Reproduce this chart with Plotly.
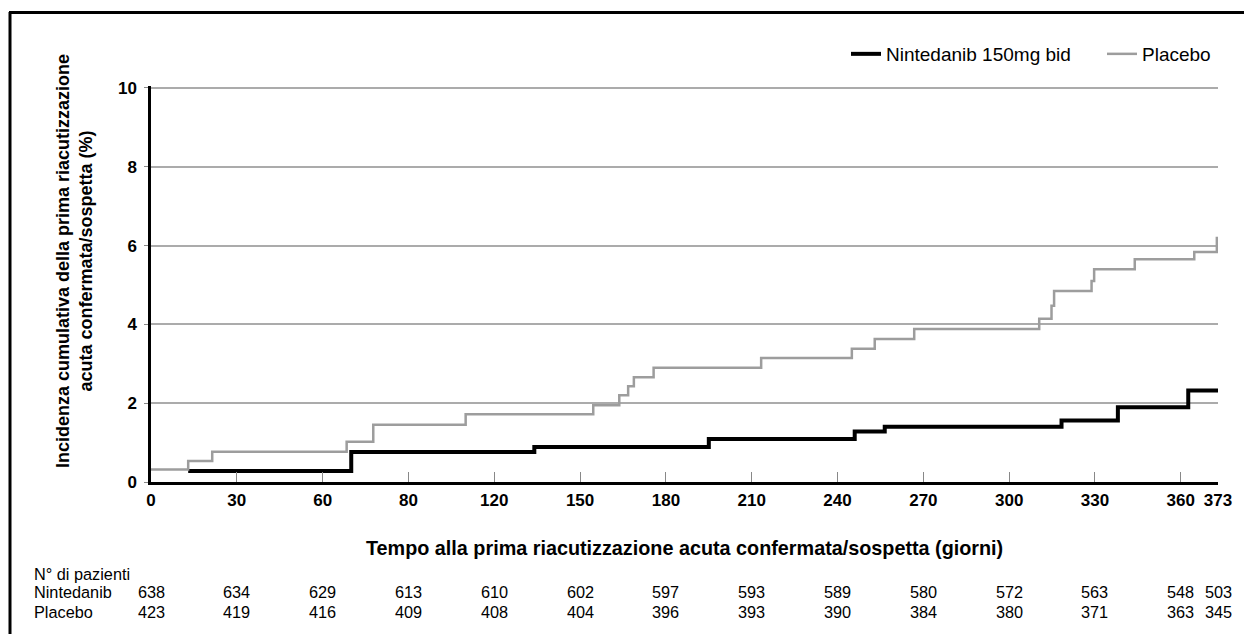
import plotly.graph_objects as go

# ---- data ----
nint_days = [13, 70, 134, 195, 246, 256.5, 318.3, 338, 362.6, 373]
nint_vals = [0.28, 0.76, 0.89, 1.09, 1.28, 1.40, 1.56, 1.90, 2.32, 2.32]

plac_days = [0, 13, 21.4, 68.4, 77.7, 110, 154.6, 163.7, 166.8, 168.8, 175.7,
             213.3, 245, 253, 266.8, 310.5, 314.8, 315.7, 328.8, 329.7, 343.9,
             364.7, 372.6, 373]
plac_vals = [0.32, 0.53, 0.77, 1.02, 1.45, 1.72, 1.95, 2.20, 2.43, 2.66, 2.90,
             3.15, 3.38, 3.63, 3.88, 4.14, 4.47, 4.85, 5.10, 5.40, 5.65,
             5.84, 6.19, 6.19]

x_tickvals = [0, 30, 60, 90, 120, 150, 180, 210, 240, 270, 300, 330, 360, 373]
x_ticktext = ["0", "30", "60", "80", "120", "150", "180", "210", "240", "270",
              "300", "330", "360", "373"]
y_tickvals = [0, 2, 4, 6, 8, 10]

risk_nint = [638, 634, 629, 613, 610, 602, 597, 593, 589, 580, 572, 563, 548, 503]
risk_plac = [423, 419, 416, 409, 408, 404, 396, 393, 390, 384, 380, 371, 363, 345]

FONT = "Liberation Sans, Arial, Helvetica, sans-serif"

fig = go.Figure()
fig.add_trace(go.Scatter(x=nint_days, y=nint_vals, mode="lines", line_shape="hv",
                         name="Nintedanib 150mg bid", legend="legend",
                         line=dict(color="#000000", width=4)))
fig.add_trace(go.Scatter(x=plac_days, y=plac_vals, mode="lines", line_shape="hv",
                         name="Placebo", legend="legend2",
                         line=dict(color="#9d9d9d", width=2.5)))

L, R, T, B = 151, 26, 86, 152
W, H = 1244, 634
pw = W - L - R
ph = H - T - B


def py(pix):
    return (H - B - pix) / ph


def px(pix):
    return (pix - L) / pw


annotations = []
# axis titles
annotations.append(dict(text="<b>Tempo alla prima riacutizzazione acuta confermata/sospetta (giorni)</b>",
                        x=0.5, y=py(548), xref="paper", yref="paper", showarrow=False,
                        xanchor="center", yanchor="middle",
                        font=dict(size=19.8, color="#000", family=FONT)))
annotations.append(dict(text="<b>Incidenza cumulativa della prima riacutizzazione<br>acuta confermata/sospetta (%)</b>",
                        x=px(74), y=py(261), xref="paper", yref="paper", showarrow=False,
                        textangle=-90, xanchor="center", yanchor="middle",
                        font=dict(size=18, color="#000", family=FONT)))
# risk table
TF = 16.3
annotations.append(dict(text="N° di pazienti", x=px(32), y=py(574), xref="paper", yref="paper",
                        showarrow=False, xanchor="left", yanchor="middle",
                        font=dict(size=TF, color="#000", family=FONT)))
for label, row, ypix in [("Nintedanib", risk_nint, 592), ("Placebo", risk_plac, 612)]:
    annotations.append(dict(text=label, x=px(32), y=py(ypix), xref="paper", yref="paper",
                            showarrow=False, xanchor="left", yanchor="middle",
                            font=dict(size=TF, color="#000", family=FONT)))
    for xv, n in zip(x_tickvals, row):
        annotations.append(dict(text=str(n), x=xv, y=py(ypix), xref="x", yref="paper",
                                showarrow=False, xanchor="center", yanchor="middle",
                                font=dict(size=TF, color="#000", family=FONT)))

shapes = [
    dict(type="line", xref="paper", yref="paper", x0=px(10), x1=px(10), y0=py(12), y1=py(634),
         line=dict(color="#000", width=3)),
    dict(type="line", xref="paper", yref="paper", x0=px(9), x1=px(1244), y0=py(12.5), y1=py(12.5),
         line=dict(color="#000", width=3)),
]

legend_common = dict(orientation="h", xanchor="left", yanchor="middle",
                     font=dict(size=19, color="#000", family=FONT),
                     bgcolor="rgba(0,0,0,0)", itemwidth=30)

fig.update_layout(
    width=W, height=H,
    margin=dict(l=L, r=R, t=T, b=B, autoexpand=False),
    paper_bgcolor="white", plot_bgcolor="white",
    font=dict(family=FONT, color="#000"),
    showlegend=True,
    legend=dict(x=px(846), y=py(54), **legend_common),
    legend2=dict(x=px(1102), y=py(54), **legend_common),
    annotations=annotations,
    shapes=shapes,
    xaxis=dict(range=[0, 373], tickvals=x_tickvals, ticktext=x_ticktext,
               showgrid=False, zeroline=False,
               showline=True, linecolor="#000", linewidth=2.5,
               ticks="inside", ticklen=10, tickwidth=1, tickcolor="#888",
               tickfont=dict(size=17, family=FONT, color="#000", weight="bold"),
               ticklabelstandoff=1, tickangle=0, fixedrange=True),
    yaxis=dict(range=[0, 10.05], tickvals=y_tickvals,
               showgrid=True, gridcolor="#ababab", gridwidth=1.5,
               zeroline=False,
               showline=True, linecolor="#000", linewidth=2.5,
               ticks="outside", ticklen=4, tickwidth=1, tickcolor="#888",
               tickfont=dict(size=17, family=FONT, color="#000", weight="bold"),
               ticklabelstandoff=4, fixedrange=True),
)

fig.write_html("out.html")
